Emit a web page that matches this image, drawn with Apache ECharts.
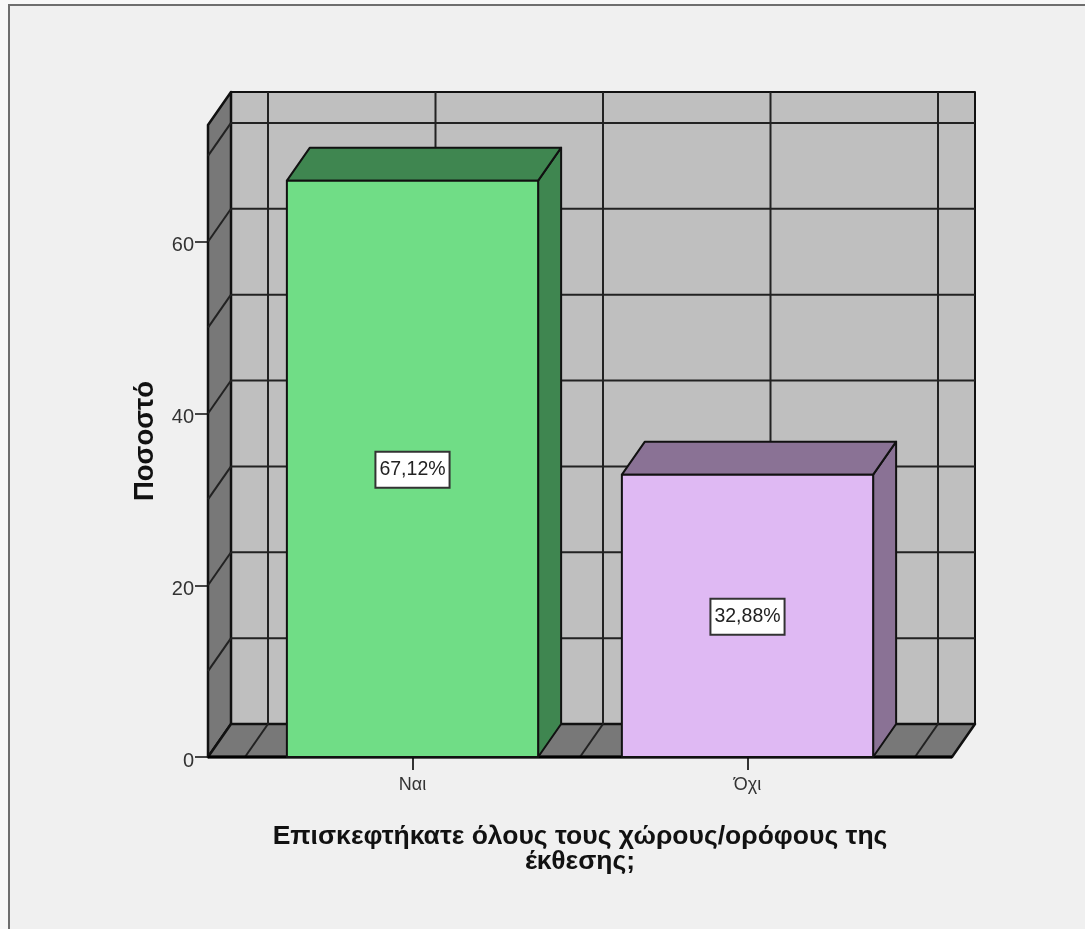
<!DOCTYPE html>
<html>
<head>
<meta charset="utf-8">
<style>html,body{margin:0;padding:0;background:#f8f8f8;}#c{width:1085px;height:929px;filter:blur(0.4px);}</style>
<script src="https://cdn.jsdelivr.net/npm/echarts@6/dist/echarts.min.js"></script>
</head>
<body>
<div id="c"></div>
<script>
const categories = ['Ναι', 'Όχι'];
const percentValues = [67.12, 32.88];
const valueLabels = ['67,12%', '32,88%'];
const yTickValues = [0, 20, 40, 60];
const wallGridValues = [0, 10, 20, 30, 40, 50, 60, 70];
const xAxisTitle = 'Επισκεφτήκατε όλους τους χώρους/ορόφους της\nέκθεσης;';
const yAxisTitle = 'Ποσοστό';
const frontColors = ['#70dd86', '#dfb9f3'];
const sideColors = ['#3f8650', '#8a7295'];

const DX = 23, DY = -33, OVER = 37;
const INK = '#111';
const SANS = '"Liberation Sans",Arial,sans-serif';
const poly = (pts, fill, lw) => ({type: 'polygon', shape: {points: pts},
  style: {fill: fill, stroke: INK, lineWidth: lw || 2, lineJoin: 'round'}});
const seg = (x1, y1, x2, y2, lw, col) => ({type: 'line', shape: {x1, y1, x2, y2},
  style: {stroke: col || '#222', lineWidth: lw || 2}});

function renderWalls(params, api) {
  const cs = params.coordSys;
  const band = api.size([1, 0])[0];
  const c0 = api.coord([0, 0])[0];
  const y0 = api.coord([0, 0])[1];
  const yTop = cs.y;
  const L = cs.x - OVER, R = cs.x + cs.width + OVER;
  const kids = [];
  kids.push(poly([[L + DX, y0 + DY], [R + DX, y0 + DY], [R + DX, yTop + DY], [L + DX, yTop + DY]], '#bfbfbf', 2));
  kids.push(poly([[L, y0], [L + DX, y0 + DY], [L + DX, yTop + DY], [L, yTop]], '#787878', 2.5));
  kids.push(poly([[L, y0], [R, y0], [R + DX, y0 + DY], [L + DX, y0 + DY]], '#787878', 2.5));
  wallGridValues.forEach(v => {
    const y = api.coord([0, v])[1];
    if (v > 0) {
      kids.push(seg(L + DX, y + DY, R + DX, y + DY));
      kids.push(seg(L, y, L + DX, y + DY));
    }
  });
  for (let k = 0; k <= categories.length * 2; k++) {
    const x = c0 + (k - 1) * band / 2;
    kids.push(seg(x + DX, yTop + DY, x + DX, y0 + DY));
    kids.push(seg(x, y0, x + DX, y0 + DY));
  }
  kids.push(seg(L, y0, R, y0, 3, '#000'));
  return {type: 'group', children: kids};
}

function renderBars(params, api) {
  const i = api.value(0), v = api.value(1);
  const c = api.coord([i, v]);
  const base = api.coord([i, 0])[1];
  const w = api.size([1, 0])[0] * 0.75;
  const l = c[0] - w / 2, r = c[0] + w / 2, t = c[1];
  return {type: 'group', children: [
    poly([[r, base], [r + DX, base + DY], [r + DX, t + DY], [r, t]], sideColors[i], 2),
    poly([[l, t], [r, t], [r + DX, t + DY], [l + DX, t + DY]], sideColors[i], 2),
    poly([[l, base], [r, base], [r, t], [l, t]], frontColors[i], 2),
    {type: 'text', style: {
      text: valueLabels[i], x: c[0], y: (t + base) / 2 + 1, align: 'center', verticalAlign: 'middle',
      fill: '#222', font: '19.5px ' + SANS, backgroundColor: '#fff',
      borderColor: '#333', borderWidth: 2, padding: [8, 3, 6, 3]
    }}
  ]};
}

const chart = echarts.init(document.getElementById('c'), null, {renderer: 'canvas'});
chart.setOption({
  animation: false,
  backgroundColor: 'transparent',
  graphic: [{type: 'rect', z: -10, shape: {x: 9, y: 5, width: 1200, height: 1200},
    style: {fill: '#f0f0f0', stroke: '#6e6e6e', lineWidth: 2}}],
  grid: {left: 245, top: 125, width: 670, height: 632},
  xAxis: {
    type: 'category', data: categories,
    axisLine: {show: false},
    axisTick: {show: true, alignWithLabel: true, length: 13, lineStyle: {color: '#333', width: 2}},
    axisLabel: {color: '#333', fontFamily: SANS, fontSize: 18, margin: 19},
    name: xAxisTitle, nameLocation: 'middle', nameGap: 67,
    nameTextStyle: {color: '#111', fontFamily: SANS, fontWeight: 'bold', fontSize: 26.5, lineHeight: 25}
  },
  yAxis: {
    type: 'value', min: 0, max: 73.6, offset: 37,
    splitLine: {show: false},
    axisLine: {show: false},
    axisTick: {show: true, length: 13, customValues: yTickValues, lineStyle: {color: '#444', width: 2}},
    axisLabel: {color: '#333', fontFamily: SANS, fontSize: 20, margin: 14, verticalAlign: 'top', lineHeight: 8, customValues: yTickValues},
    name: yAxisTitle, nameLocation: 'middle', nameGap: 49, nameRotate: 90,
    nameTextStyle: {color: '#111', fontFamily: SANS, fontWeight: 'bold', fontSize: 27.5}
  },
  series: [
    {type: 'custom', z: 1, renderItem: renderWalls, data: [[0, 0]], encode: {x: 0, y: 1}, silent: true},
    {type: 'custom', z: 3, renderItem: renderBars, data: percentValues.map((v, i) => [i, v]), encode: {x: 0, y: 1}}
  ]
});
</script>
</body>
</html>
